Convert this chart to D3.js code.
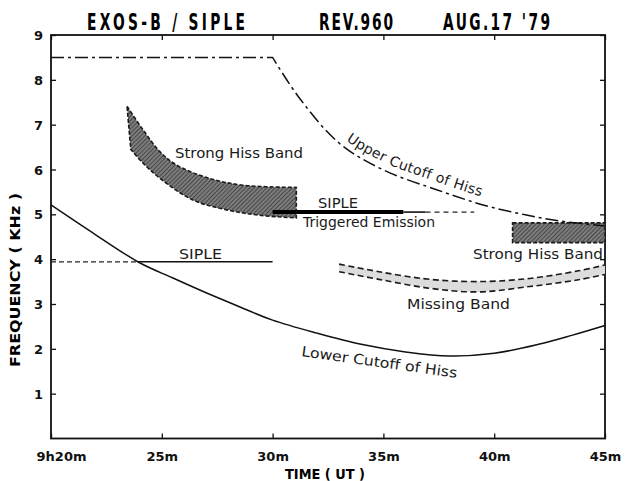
<!DOCTYPE html>
<html>
<head>
<meta charset="utf-8">
<script src="https://cdn.jsdelivr.net/npm/d3@7"></script>
<style>
  html, body { margin: 0; padding: 0; background: #fff; }
  svg { display: block; }
</style>
</head>
<body>
<svg id="chart" width="625" height="481"></svg>
<script>
// ---- data -----------------------------------------------------------
// time is in minutes after 9h00 UT, frequency in kHz
const titleParts = ["EXOS-B / SIPLE", "REV.960", "AUG.17 '79"];
const xTickValues = [20, 25, 30, 35, 40, 45];
const xTickLabels = ["9h20m", "25m", "30m", "35m", "40m", "45m"];
const yTickValues = [1, 2, 3, 4, 5, 6, 7, 8, 9];

// upper cutoff of hiss (plateau, then falling)
const upperCutoffT = [20, 30, 31.2, 33.0, 35.0, 37.4, 39.5, 41.4, 43.0, 45];
const upperCutoffF = [8.5, 8.5, 7.6, 6.59, 5.99, 5.55, 5.21, 4.99, 4.85, 4.74];

// lower cutoff of hiss
const lowerCutoffT = [20, 22, 24, 25.5, 27, 28.5, 30, 32, 34, 36, 38, 40, 42, 43.5, 45];
const lowerCutoffF = [5.21, 4.55, 3.92, 3.58, 3.25, 2.94, 2.64, 2.35, 2.1, 1.93, 1.84, 1.9, 2.1, 2.3, 2.52];

// strong hiss band, first interval (upper and lower edges)
const hissUpperT = [23.43, 24.16, 24.91, 25.66, 27.16, 28.66, 31.07];
const hissUpperF = [7.41, 6.88, 6.40, 6.10, 5.80, 5.65, 5.60];
const hissLowerT = [23.6, 24.14, 24.9, 26.4, 27.93, 29.41, 31.07];
const hissLowerF = [6.45, 6.15, 5.81, 5.32, 5.10, 4.98, 4.92];

// strong hiss band, second interval
const hiss2T = [40.83, 45];
const hiss2F = [4.37, 4.81];

// missing band
const missingT = [33.0, 34.8, 37.1, 39.3, 41.6, 43.8, 45];
const missingUpperF = [3.89, 3.72, 3.55, 3.50, 3.57, 3.74, 3.87];
const missingLowerF = [3.72, 3.55, 3.35, 3.27, 3.39, 3.54, 3.66];

// SIPLE transmission near 4 kHz
const siple4F = 3.94;
const siple4DashedT = [20, 23.9];
const siple4SolidT = [23.9, 30];

// SIPLE triggered emission near 5 kHz
const sipleTeF = 5.05;
const sipleTeThickT = [30, 35.9];
const sipleTeThinT = [35.9, 36.9];
const sipleTeDashedT = [36.9, 39.1];

// ---- layout ---------------------------------------------------------
const svg = d3.select("#chart");
const L = 51, R = 605, T = 35, B = 438.5;

const x = d3.scaleLinear().domain([20, 45]).range([L, R]);
const y = d3.scaleLinear().domain([0, 9]).range([B, T]);

const zip = (ts, fs) => ts.map((t, i) => [t, fs[i]]);
const lineGen = (curve) => d3.line().x(d => x(d[0])).y(d => y(d[1])).curve(curve);

const labelFont = "'DejaVu Sans', 'Liberation Sans', sans-serif";
const boldFont = "'DejaVu Sans', 'Liberation Sans', sans-serif";

// hatch pattern for the strong hiss band
const defs = svg.append("defs");
const pat = defs.append("pattern")
  .attr("id", "hatch")
  .attr("width", 3).attr("height", 3)
  .attr("patternUnits", "userSpaceOnUse")
  .attr("patternTransform", "rotate(45)");
pat.append("rect").attr("width", 3).attr("height", 3).attr("fill", "#7c7c7c");
pat.append("line").attr("x1", 0).attr("y1", 0).attr("x2", 0).attr("y2", 3)
  .attr("stroke", "#262626").attr("stroke-width", 1.2);

// ---- title: narrow bold capitals with open letter spacing -------------
const titleX = [87, 319, 443];
const titleW = [158, 74, 107];
const squeeze = 0.6;
svg.selectAll("text.title").data(titleParts).join("text")
  .attr("class", "title")
  .attr("transform", (d, i) => `translate(${titleX[i]},30) scale(${squeeze},1)`)
  .attr("textLength", (d, i) => titleW[i] / squeeze)
  .attr("lengthAdjust", "spacing")
  .style("font-family", "'DejaVu Sans', sans-serif")
  .style("font-weight", "bold").style("font-size", "23px")
  .text(d => d);

// ---- axes -----------------------------------------------------------
const gx = svg.append("g").attr("transform", `translate(0,${B})`)
  .call(d3.axisBottom(x).tickValues(xTickValues)
    .tickFormat((d, i) => xTickLabels[i]).tickSize(-5).tickPadding(13));
const gxTop = svg.append("g").attr("transform", `translate(0,${T})`)
  .call(d3.axisTop(x).tickValues(xTickValues).tickFormat("").tickSize(-5));
const gy = svg.append("g").attr("transform", `translate(${L},0)`)
  .call(d3.axisLeft(y).tickValues(yTickValues).tickSize(-5).tickPadding(8));
const gyR = svg.append("g").attr("transform", `translate(${R},0)`)
  .call(d3.axisRight(y).tickValues(yTickValues).tickFormat("").tickSize(-5));

[gx, gxTop, gy, gyR].forEach(g => {
  g.select(".domain").remove();
  g.selectAll(".tick line").attr("stroke", "#111").attr("stroke-width", 1.3);
  g.selectAll("text").style("font-family", boldFont).style("font-weight", "bold")
    .style("font-size", "13px").attr("fill", "#111");
});
gx.selectAll(".tick text").attr("dy", "0.71em");
gx.selectAll(".tick").filter(d => d === 20).select("text").attr("dx", 10);
gy.selectAll(".tick text").attr("dy", "0.35em");

// frame
svg.append("rect").attr("x", L).attr("y", T).attr("width", R - L).attr("height", B - T)
  .attr("fill", "none").attr("stroke", "#111").attr("stroke-width", 1.8);

// axis titles
svg.append("text").attr("x", 325).attr("y", 479).attr("text-anchor", "middle")
  .attr("textLength", 80).attr("lengthAdjust", "spacingAndGlyphs")
  .style("font-family", boldFont).style("font-weight", "bold").style("font-size", "14px")
  .text("TIME ( UT )");
svg.append("text").attr("transform", "translate(20,280) rotate(-90)").attr("text-anchor", "middle")
  .attr("textLength", 174).attr("lengthAdjust", "spacingAndGlyphs")
  .style("font-family", boldFont).style("font-weight", "bold").style("font-size", "14px")
  .text("FREQUENCY  ( KHz )");

// ---- marks ----------------------------------------------------------
const plot = svg.append("g");

// missing band: light fill between two dashed edges
const missing = missingT.map((t, i) => ({ t, hi: missingUpperF[i], lo: missingLowerF[i] }));
plot.append("path").datum(missing)
  .attr("d", d3.area().x(d => x(d.t)).y0(d => y(d.lo)).y1(d => y(d.hi)).curve(d3.curveCatmullRom))
  .attr("fill", "#dcdcdc");
[missingUpperF, missingLowerF].forEach(fs => {
  plot.append("path").datum(zip(missingT, fs))
    .attr("d", lineGen(d3.curveCatmullRom))
    .attr("fill", "none").attr("stroke", "#1a1a1a").attr("stroke-width", 1.6)
    .attr("stroke-dasharray", "6,3.5");
});

// strong hiss band (first interval)
const upPath = lineGen(d3.curveCatmullRom)(zip(hissUpperT, hissUpperF));
const loPath = lineGen(d3.curveCatmullRom)(zip(hissLowerT, hissLowerF).reverse());
plot.append("path")
  .attr("d", upPath + "L" + loPath.slice(1) + "Z")
  .attr("fill", "url(#hatch)").attr("stroke", "#1a1a1a").attr("stroke-width", 1.6)
  .attr("stroke-dasharray", "4,2");

// strong hiss band (second interval)
plot.append("rect")
  .attr("x", x(hiss2T[0])).attr("y", y(hiss2F[1]))
  .attr("width", x(hiss2T[1]) - x(hiss2T[0])).attr("height", y(hiss2F[0]) - y(hiss2F[1]))
  .attr("fill", "url(#hatch)").attr("stroke", "#1a1a1a").attr("stroke-width", 1.6)
  .attr("stroke-dasharray", "4,2");

// upper cutoff: flat part joined to the falling curve, dash-dot
const upperPts = zip(upperCutoffT, upperCutoffF);
const fallPath = lineGen(d3.curveCatmullRom)(upperPts.slice(1));
plot.append("path")
  .attr("d", `M${x(upperPts[0][0])},${y(upperPts[0][1])}L` + fallPath.slice(1))
  .attr("fill", "none").attr("stroke", "#111").attr("stroke-width", 1.5)
  .attr("stroke-dasharray", "13,4,3,4");

// lower cutoff
plot.append("path").datum(zip(lowerCutoffT, lowerCutoffF))
  .attr("d", lineGen(d3.curveCatmullRom))
  .attr("fill", "none").attr("stroke", "#111").attr("stroke-width", 1.5);

// SIPLE 4 kHz transmission
const hline = (ts, f) => lineGen(d3.curveLinear)(ts.map(t => [t, f]));
plot.append("path").attr("d", hline(siple4DashedT, siple4F))
  .attr("stroke", "#222").attr("stroke-width", 1.4).attr("stroke-dasharray", "5,3").attr("fill", "none");
plot.append("path").attr("d", hline(siple4SolidT, siple4F))
  .attr("stroke", "#111").attr("stroke-width", 1.5).attr("fill", "none");

// SIPLE triggered emission
plot.append("path").attr("d", hline(sipleTeThickT, sipleTeF))
  .attr("stroke", "#000").attr("stroke-width", 4).attr("fill", "none");
plot.append("path").attr("d", hline(sipleTeThinT, sipleTeF))
  .attr("stroke", "#111").attr("stroke-width", 1.6).attr("fill", "none");
plot.append("path").attr("d", hline(sipleTeDashedT, sipleTeF))
  .attr("stroke", "#222").attr("stroke-width", 1.4).attr("stroke-dasharray", "5,4").attr("fill", "none");

// ---- annotations ----------------------------------------------------
const labels = [
  { text: "Strong  Hiss  Band", x: 175, y: 158, w: 128 },
  { text: "SIPLE", x: 318, y: 208, w: 40 },
  { text: "Triggered  Emission", x: 303, y: 227, w: 132 },
  { text: "SIPLE", x: 179, y: 259, w: 43 },
  { text: "Strong  Hiss  Band", x: 473, y: 259, w: 130 },
  { text: "Missing  Band", x: 407, y: 309, w: 103 }
];
svg.selectAll("text.lbl").data(labels).join("text")
  .attr("class", "lbl")
  .attr("x", d => d.x).attr("y", d => d.y)
  .attr("textLength", d => d.w).attr("lengthAdjust", "spacingAndGlyphs")
  .style("font-family", labelFont).style("font-size", "14px").attr("fill", "#1a1a1a")
  .text(d => d.text);

svg.append("text")
  .attr("transform", "translate(301,356) rotate(8)")
  .attr("textLength", 157).attr("lengthAdjust", "spacingAndGlyphs")
  .style("font-family", labelFont).style("font-size", "14px").attr("fill", "#1a1a1a")
  .text("Lower  Cutoff  of  Hiss");

// label that follows the upper cutoff curve, set slightly above it
const guide = defs.append("path").attr("id", "upperGuide")
  .attr("d", lineGen(d3.curveCatmullRom)(upperPts.slice(1)))
  .attr("transform", "translate(0,-8)");
const gNode = guide.node();
const total = gNode.getTotalLength();
let lo = 0, hi = total;
for (let k = 0; k < 40; k++) {
  const mid = (lo + hi) / 2;
  if (gNode.getPointAtLength(mid).x < 346) lo = mid; else hi = mid;
}
svg.append("text")
  .style("font-family", labelFont).style("font-size", "14px").attr("fill", "#1a1a1a")
  .style("letter-spacing", "0.3px")
  .append("textPath").attr("href", "#upperGuide").attr("startOffset", lo)
  .text("Upper  Cutoff  of  Hiss");
</script>
</body>
</html>
